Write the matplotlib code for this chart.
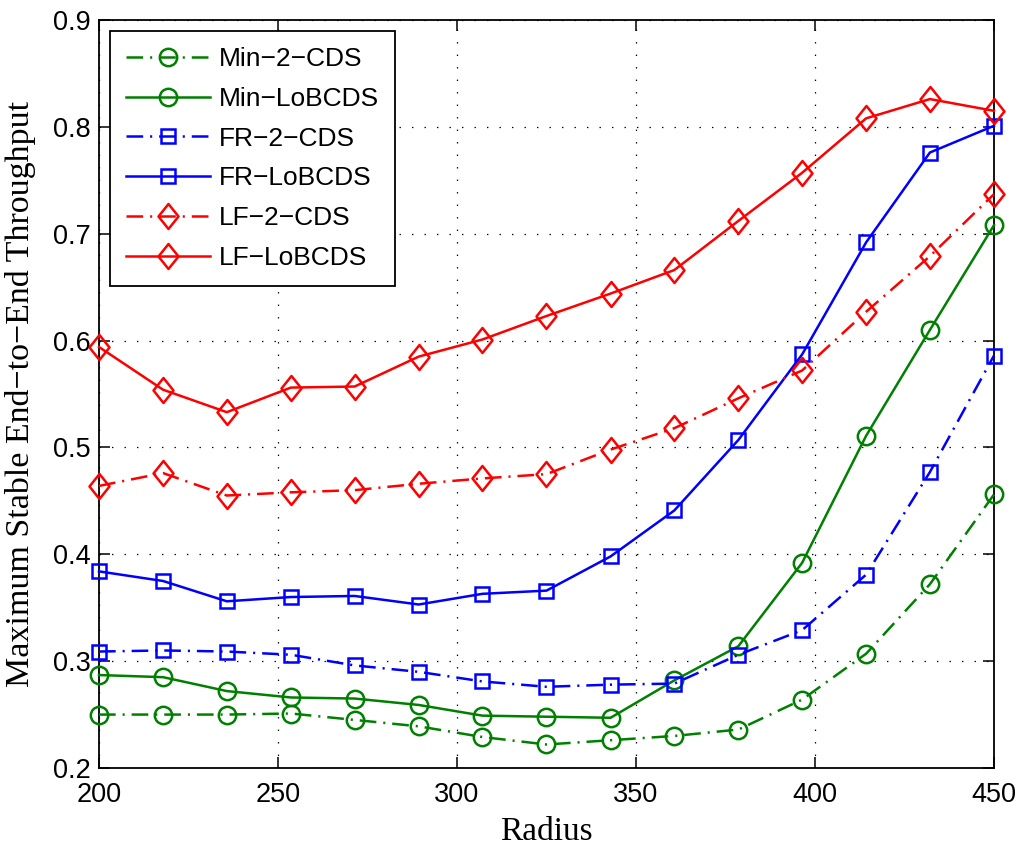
import matplotlib
matplotlib.use("Agg")
import matplotlib.pyplot as plt
from matplotlib.path import Path

plt.rcParams['lines.scale_dashes'] = False

radius = [200, 217.9, 235.7, 253.6, 271.4, 289.3, 307.1, 325.0, 342.9, 360.7, 378.6, 396.4, 414.3, 432.1, 450]

min_2cds = [0.250, 0.250, 0.250, 0.251, 0.245, 0.239, 0.229, 0.222, 0.226, 0.230, 0.236, 0.264, 0.307, 0.372, 0.456]
min_lob = [0.287, 0.285, 0.272, 0.266, 0.265, 0.259, 0.249, 0.248, 0.247, 0.282, 0.314, 0.392, 0.511, 0.610, 0.708]
fr_2cds = [0.309, 0.310, 0.309, 0.306, 0.296, 0.290, 0.281, 0.276, 0.278, 0.279, 0.306, 0.329, 0.381, 0.477, 0.586]
fr_lob = [0.384, 0.375, 0.356, 0.360, 0.361, 0.353, 0.363, 0.366, 0.398, 0.441, 0.507, 0.587, 0.692, 0.776, 0.801]
lf_2cds = [0.464, 0.476, 0.455, 0.458, 0.460, 0.466, 0.471, 0.475, 0.498, 0.518, 0.546, 0.572, 0.627, 0.679, 0.737]
lf_lob = [0.594, 0.554, 0.533, 0.556, 0.557, 0.585, 0.601, 0.623, 0.644, 0.666, 0.712, 0.757, 0.808, 0.826, 0.815]

labels = ["Min\u22122\u2212CDS", "Min\u2212LoBCDS", "FR\u22122\u2212CDS", "FR\u2212LoBCDS", "LF\u22122\u2212CDS", "LF\u2212LoBCDS"]
xticks = [200, 250, 300, 350, 400, 450]
yticks = [0.2, 0.3, 0.4, 0.5, 0.6, 0.7, 0.8, 0.9]

green = (0, 0.5, 0)
diamond = Path([(0, 1), (0.8, 0), (0, -1), (-0.8, 0), (0, 1)],
               [Path.MOVETO, Path.LINETO, Path.LINETO, Path.LINETO, Path.CLOSEPOLY])

fig = plt.figure(figsize=(10.2, 8.46), dpi=100)
ax = fig.add_axes([99/1020, (846-768)/846, (994-99)/1020, (768-20)/846])

dd = (12, 5, 1.5, 5)
lw = 1.8
series = [
    (min_2cds, green, 'o', 12.5, True),
    (min_lob, green, 'o', 12.5, False),
    (fr_2cds, 'blue', 's', 10, True),
    (fr_lob, 'blue', 's', 10, False),
    (lf_2cds, 'red', diamond, 18, True),
    (lf_lob, 'red', diamond, 18, False),
]
for (vals, col, mk, ms, dashed), lab in zip(series, labels):
    line, = ax.plot(radius, vals, color=col, lw=lw, marker=mk, ms=ms,
                    mfc='none', mec=col, mew=lw, label=lab, clip_on=False, zorder=3)
    if dashed:
        line.set_dashes(dd)

ax.set_xlim(200, 450)
ax.set_ylim(0.2, 0.9)
ax.set_xticks(xticks)
ax.set_yticks(yticks)
ax.set_xticklabels([str(v) for v in xticks])
ax.set_yticklabels(["%.1f" % v for v in yticks])
ax.grid(True, color='black', linestyle=(0, (1, 8)), linewidth=0.9)
ax.tick_params(direction='in', top=True, right=True, length=8, width=1.1,
               labelsize=19.5)
ax.tick_params(axis='x', pad=10)
ax.tick_params(axis='y', pad=6)
for lab in ax.get_xticklabels() + ax.get_yticklabels():
    lab.set_fontfamily('Liberation Sans')
for s in ax.spines.values():
    s.set_linewidth(1.3)
    s.set_color('black')

ax.set_xlabel("Radius", fontsize=24, fontfamily='Liberation Serif', labelpad=6)
ax.set_ylabel("Maximum Stable End\u2212to\u2212End Throughput", fontsize=24.5,
              fontfamily='Liberation Serif', labelpad=12)

leg = ax.legend(loc='upper left', prop={'family': 'Liberation Sans', 'size': 19},
                frameon=True, fancybox=False, edgecolor='black', framealpha=1,
                handlelength=3.2, borderaxespad=0.42, labelspacing=0.6,
                handletextpad=0.32, borderpad=0.6)
leg.get_frame().set_linewidth(1.3)

fig.savefig("out.png", dpi=100)
